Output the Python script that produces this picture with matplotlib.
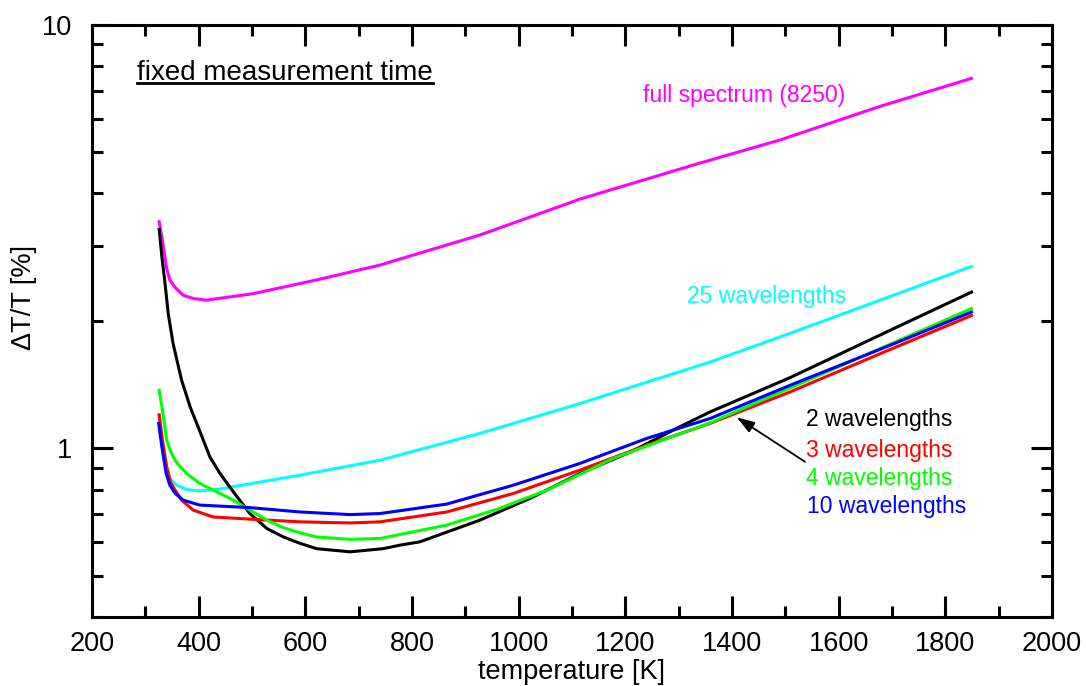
import matplotlib
matplotlib.use("Agg")
import matplotlib.pyplot as plt
from matplotlib.ticker import LogLocator, NullFormatter, FuncFormatter, MultipleLocator
from matplotlib.lines import Line2D

plt.rcParams['font.family'] = ['Liberation Sans', 'DejaVu Sans']

# values (temperature in K, dT/T in %)
t_full = [326, 334, 340, 346, 356, 371, 390, 415, 502, 621, 740, 777, 927, 1115, 1340, 1490, 1677, 1849]
dt_full = [3.43, 2.99, 2.66, 2.50, 2.40, 2.30, 2.26, 2.24, 2.32, 2.50, 2.71, 2.80, 3.19, 3.88, 4.72, 5.35, 6.42, 7.48]

t_25 = [326, 332, 339, 346, 359, 377, 402, 434, 590, 740, 927, 1115, 1359, 1509, 1849]
dt_25 = [1.20, 1.046, 0.913, 0.849, 0.819, 0.80, 0.794, 0.80, 0.865, 0.938, 1.085, 1.277, 1.60, 1.87, 2.69]

t_2 = [326, 331, 337, 343, 352, 368, 384, 402, 421, 440, 465, 496, 528, 559, 590, 621, 684, 746, 777, 815,
       927, 1021, 1115, 1209, 1302, 1359, 1509, 1696, 1849]
dt_2 = [3.29, 2.84, 2.45, 2.08, 1.77, 1.45, 1.254, 1.10, 0.955, 0.873, 0.79, 0.702, 0.647, 0.618, 0.597, 0.58,
        0.570, 0.58, 0.591, 0.602, 0.677, 0.762, 0.873, 0.98, 1.125, 1.22, 1.47, 1.90, 2.34]

t_3 = [326, 332, 340, 347, 356, 368, 390, 427, 496, 590, 684, 740, 865, 990, 1115, 1240, 1359, 1509, 1700, 1849]
dt_3 = [1.20, 1.046, 0.905, 0.834, 0.797, 0.755, 0.715, 0.689, 0.681, 0.671, 0.667, 0.671, 0.708, 0.783, 0.889,
        1.018, 1.146, 1.36, 1.72, 2.06]

t_4 = [326, 334, 340, 349, 359, 377, 402, 434, 465, 496, 528, 559, 590, 621, 684, 740, 865, 959, 1053, 1177,
       1359, 1509, 1700, 1849]
dt_4 = [1.373, 1.188, 1.046, 0.973, 0.925, 0.873, 0.827, 0.79, 0.755, 0.715, 0.677, 0.65, 0.632, 0.618, 0.610,
        0.613, 0.659, 0.718, 0.797, 0.947, 1.15, 1.39, 1.77, 2.14]

t_10 = [325, 331, 339, 346, 356, 371, 402, 496, 590, 684, 740, 865, 990, 1115, 1240, 1359, 1509, 1700, 1849]
dt_10 = [1.146, 1.009, 0.873, 0.819, 0.783, 0.755, 0.735, 0.725, 0.708, 0.698, 0.702, 0.739, 0.819, 0.922,
         1.056, 1.177, 1.41, 1.76, 2.10]

fig = plt.figure(figsize=(10.86, 6.86), dpi=100)
ax = fig.add_axes([0.0847, 0.1006, 0.884, 0.863])

lw = 2.2
ax.plot(t_full, dt_full, color='#ff00ff', lw=lw)
ax.plot(t_25, dt_25, color='#00ffff', lw=lw)
ax.plot(t_2, dt_2, color='black', lw=lw)
ax.plot(t_3, dt_3, color='#ff0000', lw=lw)
ax.plot(t_4, dt_4, color='#00ff00', lw=lw)
ax.plot(t_10, dt_10, color='#0000ff', lw=lw)

ax.set_yscale('log')
ax.set_xlim(200, 2000)
ax.set_ylim(0.4, 10)
ax.xaxis.set_major_locator(MultipleLocator(200))
ax.xaxis.set_minor_locator(MultipleLocator(100))
ax.yaxis.set_major_locator(LogLocator(base=10, subs=(1.0,)))
ax.yaxis.set_minor_locator(LogLocator(base=10, subs=(2, 3, 4, 5, 6, 7, 8, 9)))
ax.yaxis.set_minor_formatter(NullFormatter())
ax.yaxis.set_major_formatter(FuncFormatter(lambda v, p: '%g' % v))

for s in ax.spines.values():
    s.set_linewidth(2.2)
ax.tick_params(which='both', direction='in', top=True, right=True, width=2.2, labelsize=19.5)
ax.tick_params(which='major', length=15)
ax.tick_params(which='minor', length=8)
ax.tick_params(axis='x', pad=10)
ax.tick_params(axis='y', pad=14)

fig.text(572 / 1086, 1 - 672 / 686, 'temperature [K]', ha='center', va='center', fontsize=19.5)
fig.text(24 / 1086, 1 - 298 / 686, 'ΔT/T [%]', ha='center', va='center', rotation=90, fontsize=19.5)

lab = 16.5
ax.text(1233, 6.83, 'full spectrum (8250)', color='#ff00ff', fontsize=lab, va='center')
ax.text(1316, 2.28, '25 wavelengths', color='#00ffff', fontsize=lab, va='center')
ax.text(1539, 1.171, '2 wavelengths', color='black', fontsize=lab, va='center')
ax.text(1539, 0.991, '3 wavelengths', color='#ff0000', fontsize=lab, va='center')
ax.text(1539, 0.849, '4 wavelengths', color='#00ff00', fontsize=lab, va='center')
ax.text(1541, 0.728, '10 wavelengths', color='#0000ff', fontsize=lab, va='center')

ax.annotate('', xy=(1409, 1.184), xytext=(1537, 0.93),
            arrowprops=dict(arrowstyle='-|>,head_length=0.6,head_width=0.2', color='black', lw=1.3,
                            mutation_scale=18, shrinkA=0, shrinkB=0))

title = ax.text(284, 7.70, 'fixed measurement time', fontsize=20, va='center')

# underline the note
fig.canvas.draw()
bb = title.get_window_extent().transformed(fig.transFigure.inverted())
uy = bb.y0 + 0.004
fig.add_artist(Line2D([bb.x0, bb.x1], [uy, uy], transform=fig.transFigure, color='black', lw=2))

fig.savefig('out.png', dpi=100)
